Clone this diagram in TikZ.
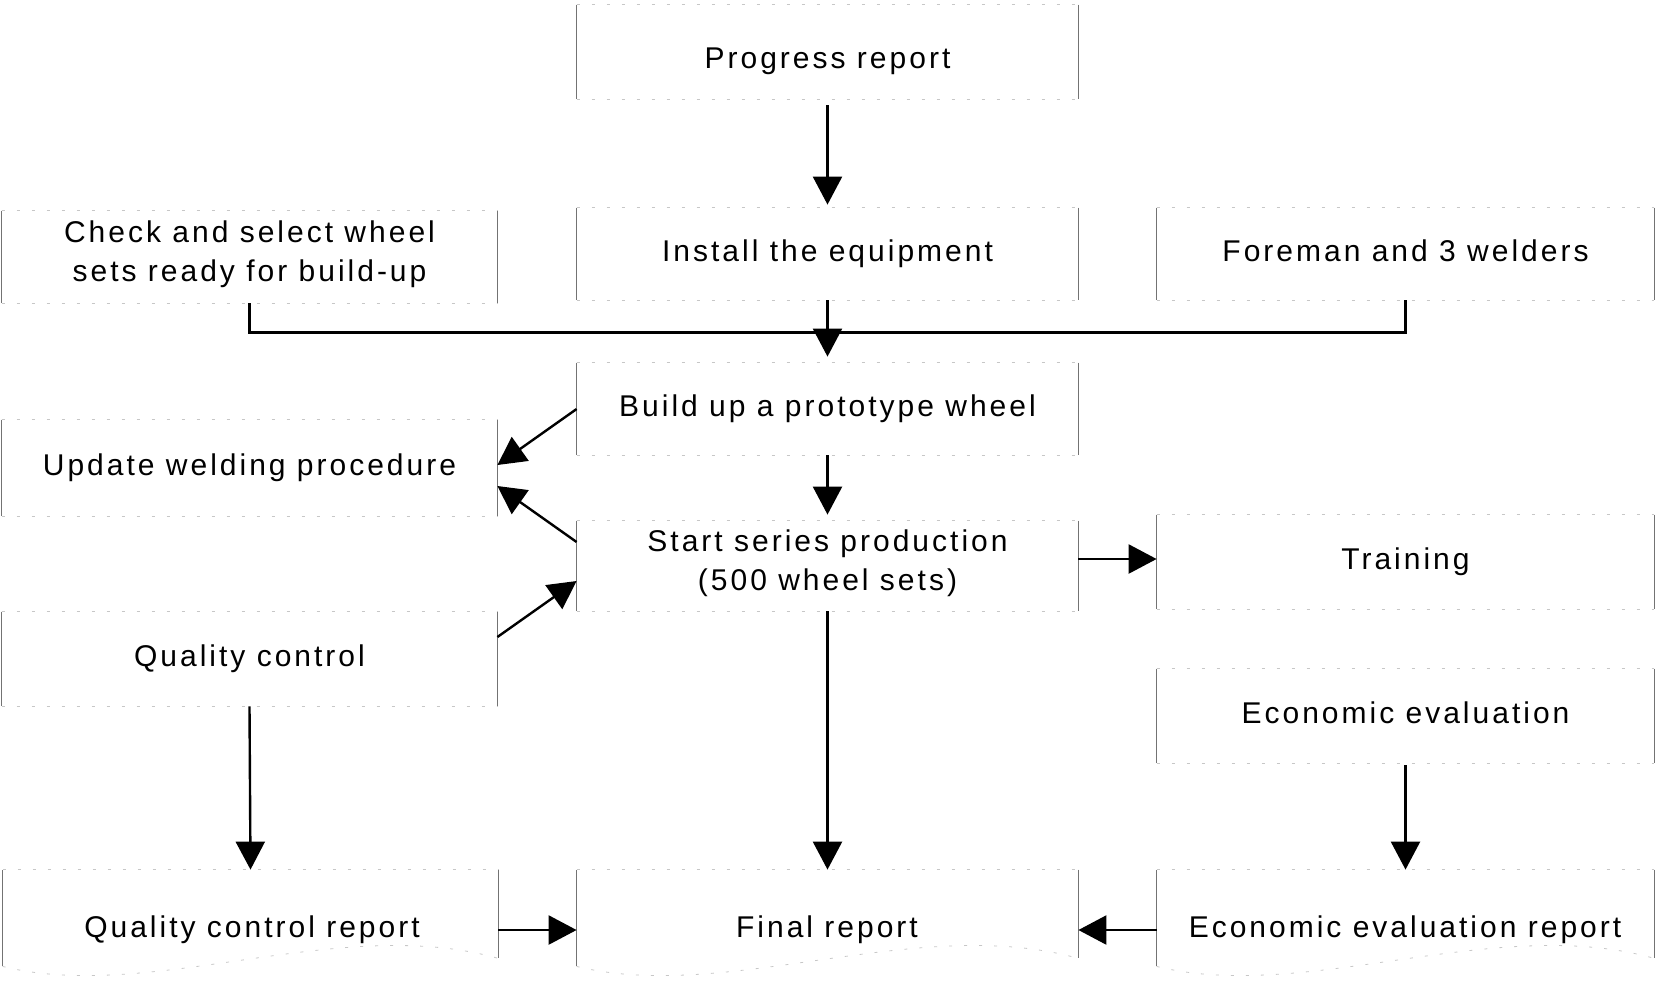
\documentclass[tikz,border=0pt]{standalone}
\usepackage{fontspec}
\setmainfont{Liberation Sans}[LetterSpace=10]
\usetikzlibrary{arrows.meta,calc}

% outline of a panel: plain vertical sides, faint dotted top and bottom
\newcommand\panelsides[1]{%
  \draw[side] (#1.north west) -- (#1.south west) (#1.north east) -- (#1.south east);
  \draw[faint] (#1.north west) -- (#1.north east) (#1.south west) -- (#1.south east);}
% outline of a report sheet with a wavy lower edge
\newcommand\reportsheet[1]{%
  \draw[side] ($(#1.south west)+(0,8)$) -- (#1.north west) (#1.north east) -- (#1.south east);
  \draw[faint] (#1.north west) -- (#1.north east);
  \draw[faint] ($(#1.south west)+(0,8)$)
    .. controls ($(#1.south west)!0.3!(#1.south east)+(0,45)$)
    and ($(#1.south west)!0.68!(#1.south east)+(0,-45)$) .. (#1.south east);}
% text set lower than the centre of its panel
\newcommand\lowered[2]{\raisebox{-#1}[\height][\depth]{#2}}

\begin{document}
\begin{tikzpicture}[x=0.5pt,y=-0.5pt,
  box/.style={inner sep=0pt, align=center, font=\fontsize{15}{19.5}\selectfont,
    execute at begin node=\strut},
  cbox/.style={box, minimum width=250.5pt},
  lbox/.style={box, minimum width=247.5pt},
  rbox/.style={box, minimum width=248.5pt},
  lbl/.style={inner sep=0pt, align=center, font=\fontsize{15}{19.5}\selectfont,
    execute at begin node=\strut},
  side/.style={draw=black!55, line width=0.5pt},
  faint/.style={draw=black!22, line width=0.4pt, dash pattern=on 1.5pt off 6pt},
  flow/.style={-{Triangle[length=14pt,width=14.5pt]}, line width=1.2pt},
  joinline/.style={line width=1.1pt}]
\useasboundingbox (0,0) rectangle (1657,986);

% column of main steps
\node[cbox, minimum height=47pt] (prog)    at (827.5,52)  {\lowered{4.5pt}{Progress report}};
\node[cbox, minimum height=46pt] (install) at (827.5,254) {Install the equipment};
\node[cbox, minimum height=46pt] (build)   at (827.5,409) {Build up a prototype wheel};
\node[cbox, minimum height=45pt] (start)   at (827.5,566) {Start series production\\(500 wheel sets)};

% left column
\node[lbox, minimum height=46pt] (check)  at (249.5,257) {Check and select wheel\\sets ready for build-up};
\node[lbox, minimum height=48pt] (update) at (249.5,468) {Update welding procedure};
\node[lbox, minimum height=47pt] (qc)     at (249.5,659) {Quality control};

% right column
\node[rbox, minimum height=46pt] (foreman)  at (1405.5,254) {Foreman and 3 welders};
\node[rbox, minimum height=47pt] (training) at (1405.5,562) {Training};
\node[rbox, minimum height=47pt] (econ)     at (1405.5,716) {Economic evaluation};

% reports
\node[lbox, minimum height=44pt] (qcr)   at (250.5,914)  {};
\node[cbox, minimum height=44pt] (fin)   at (827.5,914)  {};
\node[rbox, minimum height=44pt] (econr) at (1405.5,914) {};
\node[lbl] (qcrtext)   at (252,930)  {Quality control report};
\node[lbl] (fintext)   at (827,930)  {Final report};
\node[lbl] (econrtext) at (1405,930) {Economic evaluation report};

\foreach \n in {prog,install,build,start,check,update,qc,foreman,training,econ}
  {\panelsides{\n}}
\foreach \n in {qcr,fin,econr}
  {\reportsheet{\n}}

% connectors
\draw[flow] ([yshift=-3pt]prog.south) -- ([yshift=1.5pt]install.north);
\draw[joinline] (check.south) -- ++(0,29) -| (foreman.south);
\draw[flow] (install.south) -- ([yshift=3pt]build.north);
\draw[flow] (build.west) -- ([yshift=1.5pt]update.east);
\draw[flow] ([yshift=12pt]start.west) -- ([yshift=-9pt]update.east);
\draw[flow] ([yshift=11pt]qc.east) -- ([yshift=-7.5pt]start.west);
\draw[flow] (build.south) -- ([yshift=3pt]start.north);
\draw[flow] ([yshift=3.5pt]start.east) -- ([yshift=3.5pt]start.east -| training.west);
\draw[flow] (start.south) -- (fin.north);
\draw[flow] (qc.south) -- (qcr.north);
\draw[flow] ([yshift=-1pt]econ.south) -- (econr.north);
\draw[flow] (qcr.east |- qcrtext) -- (fin.west |- qcrtext);
\draw[flow] (econr.west |- econrtext) -- (fin.east |- econrtext);
\end{tikzpicture}
\end{document}
